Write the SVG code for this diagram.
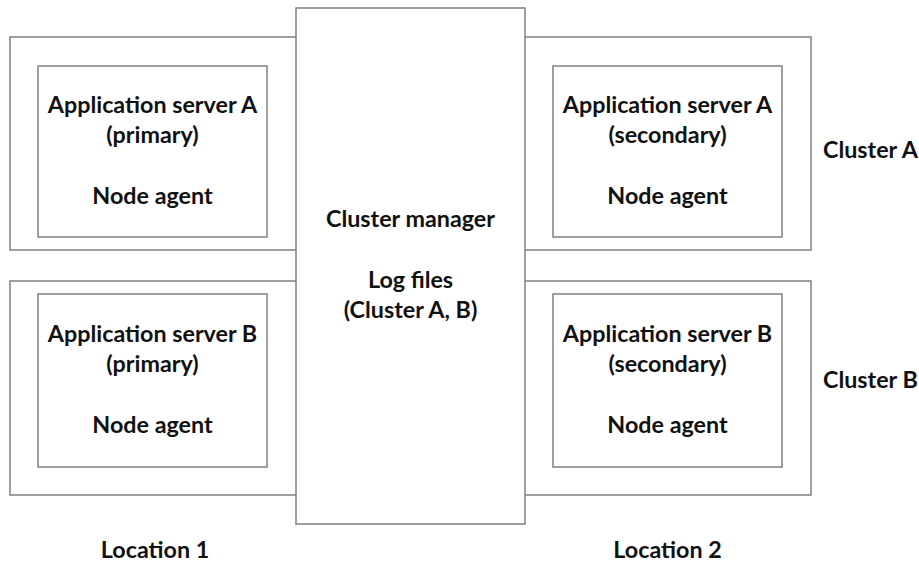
<svg xmlns="http://www.w3.org/2000/svg" width="919" height="565" viewBox="0 0 919 565">
<style>
.box{fill:#fff;stroke:#808080;stroke-width:1.5}
.t{font-family:Lato,"Liberation Sans",sans-serif;font-weight:bold;font-size:23.3px;fill:#111;text-anchor:middle}
.l{font-family:Lato,"Liberation Sans",sans-serif;font-weight:bold;font-size:23.3px;fill:#111}
</style>
<rect width="919" height="565" fill="#fff"/>
<g id="clusterA-loc1">
<rect class="box" x="10" y="37" width="300" height="213"/>
<rect class="box" x="38" y="66" width="229" height="171"/>
<text class="t" x="152.5" y="113">Application server A</text>
<text class="t" x="152.5" y="143">(primary)</text>
<text class="t" x="152.5" y="204">Node agent</text>
</g>
<g id="clusterB-loc1">
<rect class="box" x="10" y="281" width="300" height="214"/>
<rect class="box" x="38" y="294" width="229" height="173"/>
<text class="t" x="152.5" y="342">Application server B</text>
<text class="t" x="152.5" y="372">(primary)</text>
<text class="t" x="152.5" y="433">Node agent</text>
</g>
<g id="clusterA-loc2">
<rect class="box" x="510" y="37" width="301" height="213"/>
<rect class="box" x="553" y="66" width="229" height="171"/>
<text class="t" x="667.5" y="113">Application server A</text>
<text class="t" x="667.5" y="143">(secondary)</text>
<text class="t" x="667.5" y="204">Node agent</text>
</g>
<g id="clusterB-loc2">
<rect class="box" x="510" y="281" width="301" height="214"/>
<rect class="box" x="553" y="294" width="229" height="173"/>
<text class="t" x="667.5" y="342">Application server B</text>
<text class="t" x="667.5" y="372">(secondary)</text>
<text class="t" x="667.5" y="433">Node agent</text>
</g>
<g id="cluster-manager">
<rect class="box" x="296" y="8" width="229" height="516"/>
<text class="t" x="410.5" y="227">Cluster manager</text>
<text class="t" x="410.5" y="288">Log files</text>
<text class="t" x="410.5" y="318">(Cluster A, B)</text>
</g>
<g id="labels">
<text class="l" x="823" y="158">Cluster A</text>
<text class="l" x="823" y="388">Cluster B</text>
<text class="t" x="155" y="558">Location 1</text>
<text class="t" x="667.5" y="558">Location 2</text>
</g>
<g id="connectors"></g>
</svg>
